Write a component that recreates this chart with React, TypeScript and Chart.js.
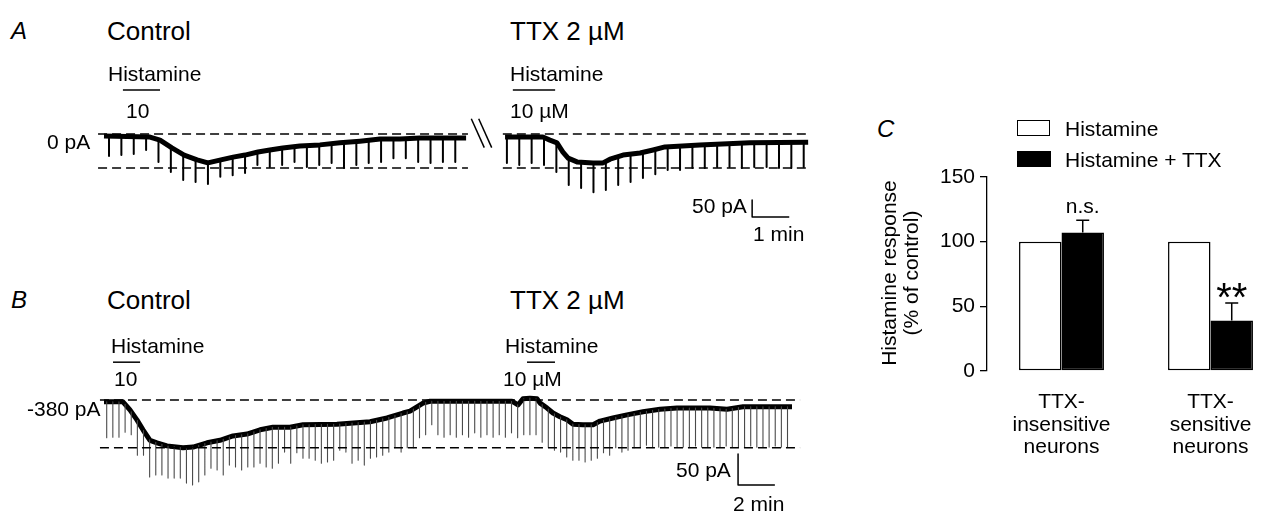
import React, { useEffect, useRef } from "react";
import { Chart, registerables } from "chart.js";
Chart.register(...registerables);

const FONT = 'Arial, "Liberation Sans", Helvetica, sans-serif';
Chart.defaults.font.family = FONT;

// ---------- DATA ----------
// Spike (evoked current) protocol: one every 20 s
const SPIKE_INTERVAL_MIN = 1 / 3;

// Panel A, control (time in min, current in pA)
const aCtrlBaseT = [0, 1.24, 1.51, 1.83, 2.16, 2.51, 2.8, 3.15, 3.48, 3.8, 4.15, 4.47, 4.82, 5.28, 5.82, 6.36, 6.9, 7.44, 7.98, 8.52, 9.06, 9.76];
const aCtrlBaseV = [-6, -9, -18, -41, -62, -76, -85, -76, -68, -62, -53, -47, -41, -35, -32, -26, -21, -15, -15, -12, -12, -12];
const aCtrlSpikeStart = 0.135;
const aCtrlSpikeV = [-65, -62, -59, -47, -82, -112, -135, -141, -147, -126, -121, -115, -91, -97, -91, -82, -97, -91, -85, -100, -91, -85, -82, -71, -71, -82, -85, -82, -82];

// Panel A, TTX 2 µM
const aTtxBaseT = [10.81, 11.83, 12.02, 12.21, 12.37, 12.51, 12.75, 13.18, 13.45, 13.64, 13.99, 14.45, 14.8, 15.12, 16.06, 17.41, 18.98];
const aTtxBaseV = [-9, -9, -18, -26, -53, -71, -82, -85, -85, -74, -62, -56, -47, -38, -32, -26, -24];
const aTtxSpikeStart = 10.86;
const aTtxSpikeV = [-85, -91, -85, -91, -112, -150, -159, -171, -165, -150, -141, -129, -118, -106, -106, -100, -100, -97, -97, -100, -97, -97, -100, -100, -97];

// Panel A reference levels / drug application (min)
const aLevels = [0, -100];
const aCtrlSpan = [-0.16, 9.81];
const aTtxSpan = [10.75, 18.92];
const aHistCtrl = [0.51, 1.51];
const aHistTtx = [11.02, 12.16];

// Panel B (time in min, current in pA)
const bBaseT = [0, 1.03, 1.41, 1.79, 2.12, 2.5, 2.88, 3.42, 4.29, 4.84, 5.6, 6.3, 7.01, 7.77, 8.48, 9.18, 10.11, 10.82, 12.66, 14.46, 15.38, 16.25, 16.63, 17.01, 17.34, 17.72, 22.17, 22.5, 22.77, 23.15, 23.53, 23.7, 24.08, 24.4, 24.78, 25.16, 25.49, 26.03, 26.58, 26.96, 27.66, 28.42, 29.29, 30.22, 31.14, 32.93, 33.86, 34.73, 37.39];
const bBaseV = [-383, -383, -396, -412, -428, -445, -449, -454, -457, -456, -449, -445, -438, -435, -428, -424, -424, -420, -419, -415, -409, -401, -398, -391, -385, -382, -382, -388, -378, -377, -378, -385, -393, -401, -407, -412, -419, -420, -420, -414, -409, -404, -399, -395, -393, -393, -395, -391, -391];
const bSpikeStart = 0.147;
const bSpikeV = [
  -441, -440, -440, -432, -436, -469, -469, -504, -501, -501, -506, -506, -506, -514, -517, -512, -501, -490, -493, -501, -485, -488, -493, -488, -488, -482, -488, -490, -482,
  -464, -482, -465, -474, -474, -477, -482, -480, -477, -461, -464, -482, -477, -485, -474, -472, -469, -464, -457, -464, -457, -457, -441, -436, -420, -436, -440,
  -436, -440, -436, -440, -433, -440, -436, -440, -436, -440, -433, -441, -436, -436, -436, -448, -456, -461, -464, -472, -477, -477, -480, -477, -474, -465, -469, -457,
  -464, -461, -457, -456, -453, -456, -456, -456, -454, -456, -456, -456, -454, -456, -456, -456, -456, -454, -456, -456, -456, -454, -456, -456, -456, -454, -456, -456,
];
const bLevels = [-380, -457];
const bSpan = [-0.22, 37.83];
const bHistCtrl = [0.49, 1.96];
const bHistTtx = [22.99, 24.51];

// Scale bars
const aScale = { t: 17.47, v: -244, pA: 50, min: 1 };
const bScale = { t: 34.46, v: -517, pA: 50, min: 2 };

// Panel C
const cCategories = [["TTX-", "insensitive", "neurons"], ["TTX-", "sensitive", "neurons"]];
const cSeries = ["Histamine", "Histamine + TTX"];
const cHistamine = [100, 100];
const cHistTtx = [107, 39];
const cHistTtxErr = [9.5, 13.5];
const cSignif = ["n.s.", "**"];
const cTicks = [0, 50, 100, 150];

// ---------- LAYOUT ----------
const A = { left: 95, top: 60, w: 720, h: 180, x0: 104, pxPerMin: 37.1, y0: 134, v0: 0, paPerPx: 2.94 };
const B = { left: 95, top: 340, w: 720, h: 162, x0: 104, pxPerMin: 18.4, y0: 400, v0: -380, paPerPx: 1.613 };
const C = { left: 870, top: 157, w: 415, h: 309 };
const DASH = [9, 5];

function interp(ts: number[], vs: number[], t: number) {
  if (t <= ts[0]) return vs[0];
  for (let i = 1; i < ts.length; i++) {
    if (t <= ts[i]) {
      const f = (t - ts[i - 1]) / (ts[i] - ts[i - 1]);
      return vs[i - 1] + f * (vs[i] - vs[i - 1]);
    }
  }
  return vs[vs.length - 1];
}

function tracePts(ts: number[], vs: number[]) {
  return ts.map((t, i) => ({ x: t, y: vs[i] }));
}

function spikePts(ts: number[], vs: number[], start: number, vals: number[]) {
  const pts: any[] = [];
  vals.forEach((v, i) => {
    const t = start + i * SPIKE_INTERVAL_MIN;
    pts.push({ x: t, y: interp(ts, vs, t) }, { x: t, y: v }, { x: t, y: null });
  });
  return pts;
}

function seg(x1: number, y1: number, x2: number, y2: number) {
  return [{ x: x1, y: y1 }, { x: x2, y: y2 }];
}

function axesFor(L: any) {
  const xmin = (L.left - L.x0) / L.pxPerMin;
  const xmax = (L.left + L.w - L.x0) / L.pxPerMin;
  const ymax = L.v0 + (L.y0 - L.top) * L.paPerPx;
  const ymin = L.v0 - (L.top + L.h - L.y0) * L.paPerPx;
  return {
    x: { type: "linear", display: false, min: xmin, max: xmax },
    y: { type: "linear", display: false, min: ymin, max: ymax },
  };
}

const baseOpts = (L: any) => ({
  animation: false,
  responsive: false,
  maintainAspectRatio: false,
  layout: { padding: 0 },
  plugins: { legend: { display: false }, tooltip: { enabled: false } },
  elements: { point: { radius: 0 }, line: { tension: 0, borderJoinStyle: "round" } },
  scales: axesFor(L),
});

const lineDs = (data: any, dash = true, width = 1.4) => ({
  data,
  borderColor: "#000",
  borderWidth: width,
  borderDash: dash ? DASH : [],
  pointRadius: 0,
  fill: false,
});

function TraceA() {
  const ref = useRef<HTMLCanvasElement>(null);
  useEffect(() => {
    const datasets: any[] = [];
    aLevels.forEach((lv) => {
      datasets.push(lineDs(seg(aCtrlSpan[0], lv, aCtrlSpan[1], lv)));
      datasets.push(lineDs(seg(aTtxSpan[0], lv, aTtxSpan[1], lv)));
    });
    datasets.push({ data: spikePts(aCtrlBaseT, aCtrlBaseV, aCtrlSpikeStart, aCtrlSpikeV), borderColor: "#000", borderWidth: 2, spanGaps: false });
    datasets.push({ data: spikePts(aTtxBaseT, aTtxBaseV, aTtxSpikeStart, aTtxSpikeV), borderColor: "#000", borderWidth: 2, spanGaps: false });
    datasets.push({ data: tracePts(aCtrlBaseT, aCtrlBaseV), borderColor: "#000", borderWidth: 5 });
    datasets.push({ data: tracePts(aTtxBaseT, aTtxBaseV), borderColor: "#000", borderWidth: 5 });
    // drug application bars
    const hl = 129;
    datasets.push(lineDs(seg(aHistCtrl[0], hl, aHistCtrl[1], hl), false, 1.5));
    datasets.push(lineDs(seg(aHistTtx[0], hl, aHistTtx[1], hl), false, 1.5));
    // scale bar
    datasets.push(lineDs([{ x: aScale.t, y: aScale.v + aScale.pA }, { x: aScale.t, y: aScale.v }, { x: aScale.t + aScale.min, y: aScale.v }], false, 1.5));
    // break marks
    datasets.push(lineDs(seg(9.9, 45, 10.25, -40), false, 1.5));
    datasets.push(lineDs(seg(10.1, 45, 10.45, -40), false, 1.5));
    const chart = new Chart(ref.current!, { type: "line", data: { datasets }, options: baseOpts(A) as any });
    return () => chart.destroy();
  }, []);
  return <canvas ref={ref} width={A.w} height={A.h} style={{ position: "absolute", left: A.left, top: A.top, width: A.w, height: A.h }} />;
}

function TraceB() {
  const ref = useRef<HTMLCanvasElement>(null);
  useEffect(() => {
    const datasets: any[] = [];
    bLevels.forEach((lv) => datasets.push(lineDs(seg(bSpan[0], lv, bSpan[1], lv))));
    datasets.push({ data: spikePts(bBaseT, bBaseV, bSpikeStart, bSpikeV), borderColor: "#4a4a4a", borderWidth: 1.1, spanGaps: false });
    datasets.push({ data: tracePts(bBaseT, bBaseV), borderColor: "#000", borderWidth: 5 });
    const hl = -319;
    datasets.push(lineDs(seg(bHistCtrl[0], hl, bHistCtrl[1], hl), false, 1.5));
    datasets.push(lineDs(seg(bHistTtx[0], hl, bHistTtx[1], hl), false, 1.5));
    datasets.push(lineDs([{ x: bScale.t, y: bScale.v + bScale.pA }, { x: bScale.t, y: bScale.v }, { x: bScale.t + bScale.min, y: bScale.v }], false, 1.5));
    const chart = new Chart(ref.current!, { type: "line", data: { datasets }, options: baseOpts(B) as any });
    return () => chart.destroy();
  }, []);
  return <canvas ref={ref} width={B.w} height={B.h} style={{ position: "absolute", left: B.left, top: B.top, width: B.w, height: B.h }} />;
}

const errorBarPlugin = {
  id: "errorBars",
  afterDatasetsDraw(chart: any) {
    const ctx = chart.ctx;
    const meta = chart.getDatasetMeta(1);
    const y = chart.scales.y;
    meta.data.forEach((bar: any, i: number) => {
      const top = y.getPixelForValue(cHistTtx[i] + cHistTtxErr[i]);
      ctx.save();
      ctx.strokeStyle = "#000";
      ctx.lineWidth = 1.5;
      ctx.beginPath();
      ctx.moveTo(bar.x, bar.y);
      ctx.lineTo(bar.x, top);
      ctx.moveTo(bar.x - 6.5, top);
      ctx.lineTo(bar.x + 6.5, top);
      ctx.stroke();
      ctx.fillStyle = "#000";
      ctx.textAlign = "center";
      if (cSignif[i] === "**") {
        ctx.font = `40px ${FONT}`;
        ctx.textBaseline = "alphabetic";
        ctx.fillText(cSignif[i], bar.x, top + 8);
      } else {
        ctx.font = `21px ${FONT}`;
        ctx.textBaseline = "bottom";
        ctx.fillText(cSignif[i], bar.x, top - 3);
      }
      ctx.restore();
    });
  },
};

function BarC() {
  const ref = useRef<HTMLCanvasElement>(null);
  useEffect(() => {
    const chart = new Chart(ref.current!, {
      type: "bar",
      data: {
        labels: cCategories as any,
        datasets: [
          { label: cSeries[0], data: cHistamine, backgroundColor: "#fff", borderColor: "#000", borderWidth: 1.5, borderSkipped: false, barPercentage: 1, categoryPercentage: 0.57 },
          { label: cSeries[1], data: cHistTtx, backgroundColor: "#000", borderColor: "#000", borderWidth: 1.5, borderSkipped: false, barPercentage: 1, categoryPercentage: 0.57 },
        ],
      },
      options: {
        animation: false,
        responsive: false,
        maintainAspectRatio: false,
        layout: { padding: { top: 20, left: 0, right: 0, bottom: 0 } },
        plugins: { legend: { display: false }, tooltip: { enabled: false } },
        scales: {
          x: {
            grid: { display: false, drawTicks: false },
            border: { display: false },
            ticks: { color: "#000", font: { size: 21, lineHeight: 1.08 }, padding: 20, maxRotation: 0, autoSkip: false },
            afterFit: (s: any) => { s.height = 95; },
          },
          y: {
            min: cTicks[0],
            max: cTicks[cTicks.length - 1],
            afterBuildTicks: (s: any) => { s.ticks = cTicks.map((v) => ({ value: v })); },
            ticks: { color: "#000", font: { size: 21 }, padding: 5 },
            grid: { drawOnChartArea: false, drawTicks: true, tickLength: 7, color: "#000", lineWidth: 1.3 },
            border: { display: true, color: "#000", width: 1.3 },
            afterFit: (s: any) => { s.width = 117; },
          },
        },
      } as any,
      plugins: [errorBarPlugin],
    });
    return () => chart.destroy();
  }, []);
  return <canvas ref={ref} width={C.w} height={C.h} style={{ position: "absolute", left: C.left, top: C.top, width: C.w, height: C.h }} />;
}

function T({ x, y, s = 21, i = false, children }: any) {
  return (
    <div style={{ position: "absolute", left: x, top: y - s / 2, fontSize: s, lineHeight: `${s}px`, fontFamily: FONT, fontStyle: i ? "italic" : "normal", whiteSpace: "nowrap", color: "#000" }}>
      {children}
    </div>
  );
}

function VT({ cx, cy, s = 21, children }: any) {
  return (
    <div style={{ position: "absolute", left: cx, top: cy, fontSize: s, lineHeight: `${s}px`, fontFamily: FONT, whiteSpace: "nowrap", color: "#000", transform: "translate(-50%, -50%) rotate(-90deg)" }}>
      {children}
    </div>
  );
}

export default function App() {
  useEffect(() => {
    document.body.style.margin = "0";
  }, []);
  return (
    <div style={{ position: "absolute", left: 0, top: 0, width: 1274, height: 512, overflow: "hidden", background: "#fff" }}>
      <TraceA />
      <TraceB />
      <BarC />
      {/* Panel A text */}
      <T x={11} y={31} s={24} i>A</T>
      <T x={107} y={31} s={26}>Control</T>
      <T x={510} y={31} s={26}>TTX 2 µM</T>
      <T x={108} y={73}>Histamine</T>
      <T x={126} y={110}>10</T>
      <T x={510} y={73}>Histamine</T>
      <T x={510} y={110}>10 µM</T>
      <T x={47} y={141}>0 pA</T>
      <T x={692} y={205}>50 pA</T>
      <T x={753} y={233}>1 min</T>
      {/* Panel B text */}
      <T x={11} y={300} s={24} i>B</T>
      <T x={107} y={300} s={26}>Control</T>
      <T x={510} y={300} s={26}>TTX 2 µM</T>
      <T x={111} y={345}>Histamine</T>
      <T x={114} y={378}>10</T>
      <T x={505} y={345}>Histamine</T>
      <T x={503} y={378}>10 µM</T>
      <T x={27} y={408}>-380 pA</T>
      <T x={676} y={469}>50 pA</T>
      <T x={733} y={503}>2 min</T>
      {/* Panel C text */}
      <T x={877} y={129} s={24} i>C</T>
      <div style={{ position: "absolute", left: 1017, top: 120, width: 31, height: 14, border: "1.5px solid #000", background: "#fff" }} />
      <T x={1065} y={128}>{cSeries[0]}</T>
      <div style={{ position: "absolute", left: 1017, top: 151, width: 34, height: 16, background: "#000" }} />
      <T x={1065} y={159}>{cSeries[1]}</T>
      <VT cx={888} cy={273}>Histamine response</VT>
      <VT cx={910} cy={273}>(% of control)</VT>
    </div>
  );
}
